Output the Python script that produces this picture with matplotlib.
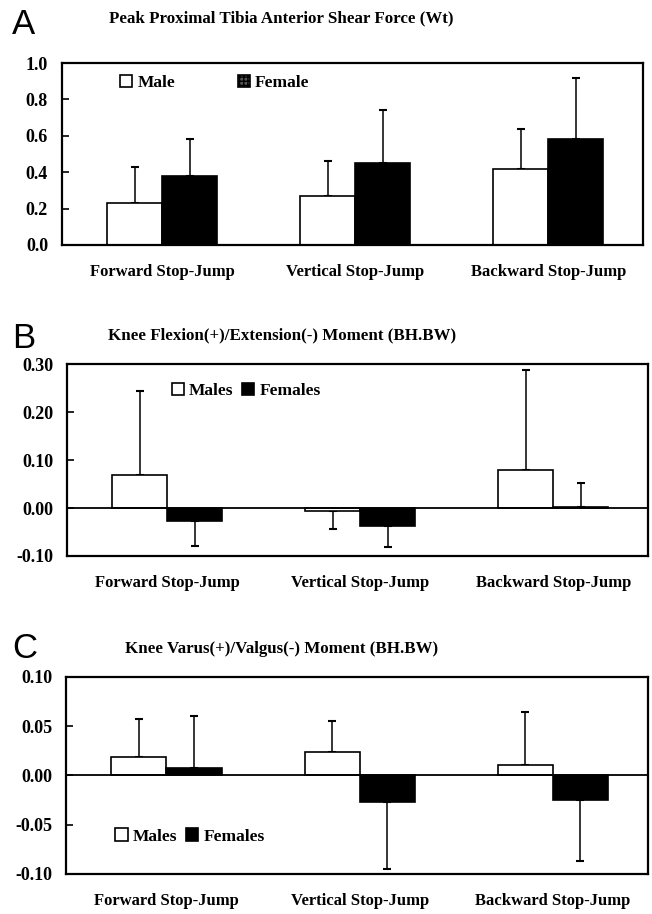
import matplotlib
matplotlib.use("Agg")
import matplotlib.pyplot as plt
from matplotlib.patches import Patch

plt.rcParams['font.family'] = ['Liberation Serif', 'DejaVu Serif']
plt.rcParams['font.weight'] = 'bold'
plt.rcParams['axes.unicode_minus'] = False

categories = ['Forward Stop-Jump', 'Vertical Stop-Jump', 'Backward Stop-Jump']

# panel A: peak proximal tibia anterior shear force
shear_male = [0.23, 0.27, 0.42]
shear_male_sd = [0.20, 0.19, 0.22]
shear_female = [0.38, 0.45, 0.58]
shear_female_sd = [0.20, 0.29, 0.34]

# panel B: knee flexion/extension moment
flex_male = [0.068, -0.007, 0.080]
flex_male_sd = [0.175, 0.036, 0.208]
flex_female = [-0.028, -0.037, 0.003]
flex_female_sd = [0.052, 0.044, 0.049]

# panel C: knee varus/valgus moment
varus_male = [0.019, 0.024, 0.011]
varus_male_sd = [0.038, 0.031, 0.053]
varus_female = [0.008, -0.027, -0.025]
varus_female_sd = [0.052, 0.068, 0.062]

yticks_a = [0.0, 0.2, 0.4, 0.6, 0.8, 1.0]
yticks_b = [-0.10, 0.00, 0.10, 0.20, 0.30]
yticks_c = [-0.10, -0.05, 0.00, 0.05, 0.10]

W = 0.285


def one_sided(means, sds):
    lower = [sd if m < 0 else 0 for m, sd in zip(means, sds)]
    upper = [sd if m >= 0 else 0 for m, sd in zip(means, sds)]
    return [lower, upper]


def panel(ax, male, male_sd, female, female_sd, yticks, fmt):
    x = list(range(len(categories)))
    xm = [i - W / 2 for i in x]
    xf = [i + W / 2 for i in x]
    ax.bar(xm, male, W, color='white', edgecolor='black', linewidth=1.2, zorder=2)
    ax.bar(xf, female, W, color='black', edgecolor='black', linewidth=1.2, zorder=2)
    ax.errorbar(xm, male, yerr=one_sided(male, male_sd), fmt='none',
                ecolor='black', elinewidth=1.1, capsize=3, capthick=1.5, zorder=1)
    ax.errorbar(xf, female, yerr=one_sided(female, female_sd), fmt='none',
                ecolor='black', elinewidth=1.1, capsize=3, capthick=1.5, zorder=1)
    ax.axhline(0, color='black', linewidth=1.3, zorder=3)
    ax.set_xlim(-0.52, 2.49)
    ax.set_ylim(yticks[0], yticks[-1])
    ax.set_yticks(yticks)
    ax.set_yticklabels([fmt.format(t) for t in yticks])
    ax.set_xticks(x)
    ax.set_xticklabels(categories)
    ax.tick_params(axis='x', length=0, pad=14, labelsize=12)
    ax.tick_params(axis='y', direction='in', length=5, width=1.2, pad=10, labelsize=13)
    for s in ax.spines.values():
        s.set_linewidth(1.6)


fig = plt.figure(figsize=(6.52, 9.14), dpi=100)

axA = fig.add_axes([0.0951, 0.732, 0.891, 0.199])
panel(axA, shear_male, shear_male_sd, shear_female, shear_female_sd, yticks_a, '{:.1f}')
hA = [Patch(facecolor='white', edgecolor='black', linewidth=1.2),
      Patch(facecolor='#555555', edgecolor='black', hatch='++++', linewidth=1.2)]
axA.legend(hA, ['Male', 'Female'], ncol=2, loc='center left', bbox_to_anchor=(0.1, 0.89),
           frameon=False, handlelength=0.7, handleheight=0.7, handletextpad=0.3,
           columnspacing=3.6, borderpad=0, borderaxespad=0, fontsize=12.5)

axB = fig.add_axes([0.1028, 0.3917, 0.891, 0.210])
panel(axB, flex_male, flex_male_sd, flex_female, flex_female_sd, yticks_b, '{:.2f}')
hB = [Patch(facecolor='white', edgecolor='black', linewidth=1.2),
      Patch(facecolor='black', edgecolor='black', linewidth=1.2)]
axB.legend(hB, ['Males', 'Females'], ncol=2, loc='center left', bbox_to_anchor=(0.18, 0.86),
           frameon=False, handlelength=0.7, handleheight=0.7, handletextpad=0.3,
           columnspacing=0.5, borderpad=0, borderaxespad=0, fontsize=12.5)

axC = fig.add_axes([0.1012, 0.0438, 0.892, 0.2155])
panel(axC, varus_male, varus_male_sd, varus_female, varus_female_sd, yticks_c, '{:.2f}')
axC.legend(hB, ['Males', 'Females'], ncol=2, loc='center left', bbox_to_anchor=(0.085, 0.19),
           frameon=False, handlelength=0.7, handleheight=0.7, handletextpad=0.3,
           columnspacing=0.5, borderpad=0, borderaxespad=0, fontsize=12.5)

titles = ['Peak Proximal Tibia Anterior Shear Force (Wt)',
          'Knee Flexion(+)/Extension(-) Moment (BH.BW)',
          'Knee Varus(+)/Valgus(-) Moment (BH.BW)']
title_y = [1 - 18 / 914, 1 - 335 / 914, 1 - 649 / 914]
letters = ['A', 'B', 'C']
letter_y = [1 - 25 / 914, 1 - 338 / 914, 1 - 649 / 914]
for t, ty, l, ly in zip(titles, title_y, letters, letter_y):
    fig.text(0.432, ty, t, ha='center', va='center', fontsize=12.2)
    fig.text(0.019, ly, l, ha='left', va='center', fontsize=25, fontweight='normal',
             family=['Liberation Sans', 'DejaVu Sans'])

fig.savefig('out.png', dpi=100)
